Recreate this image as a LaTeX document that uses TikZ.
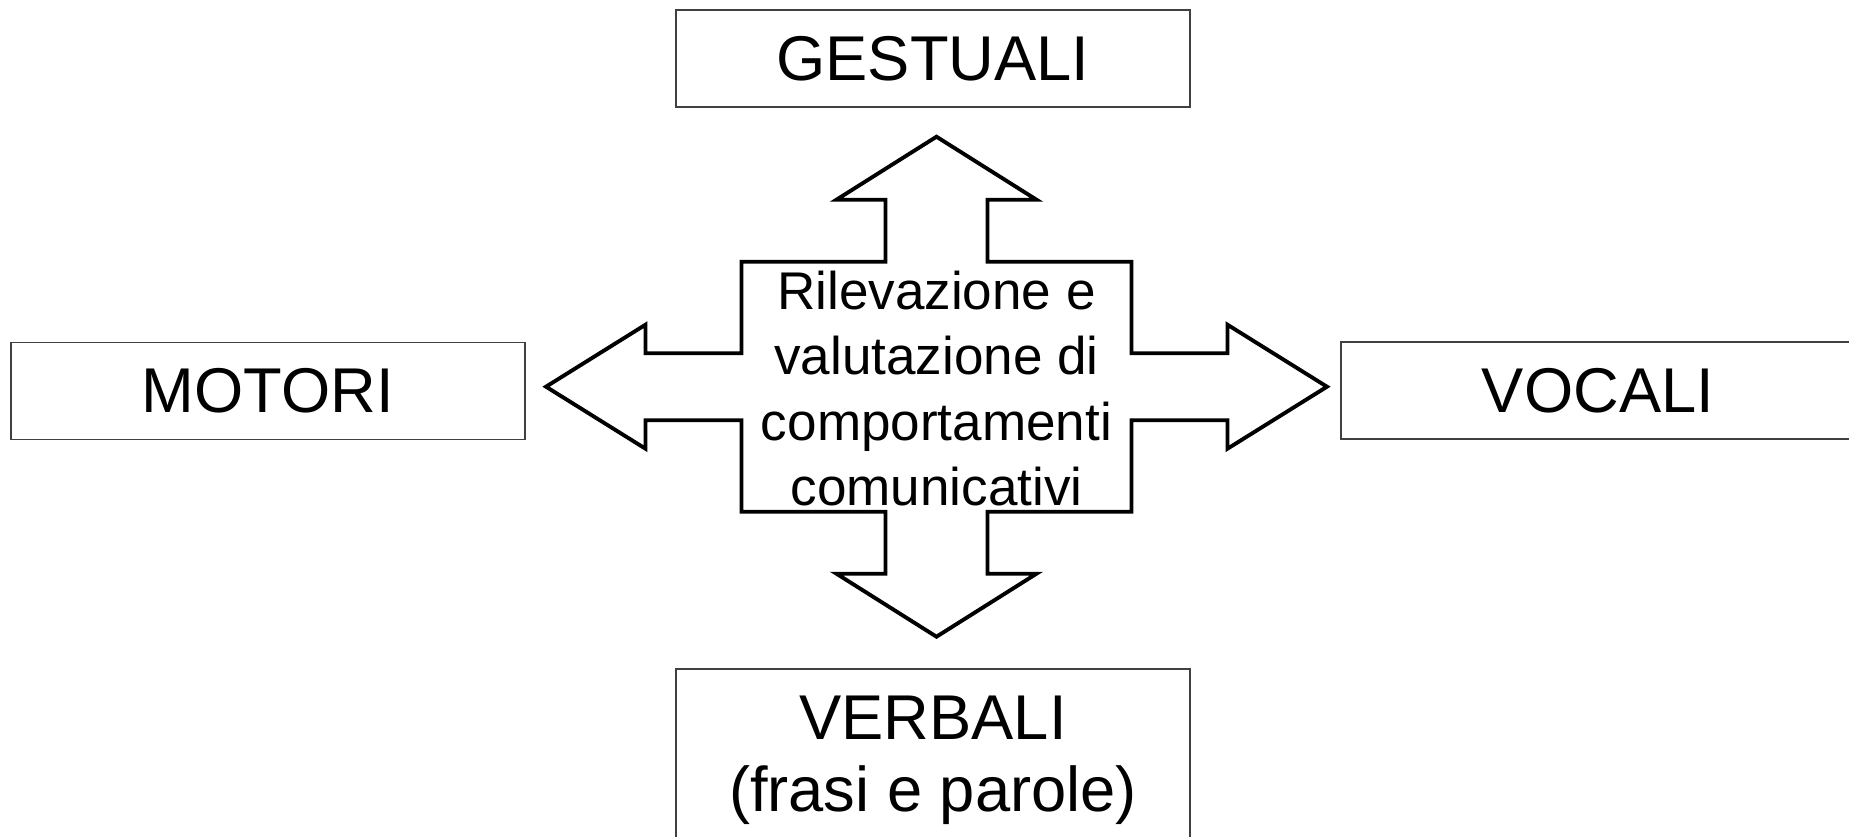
\documentclass[tikz,border=0pt]{standalone}
\usepackage{fontspec}
\setmainfont{Liberation Sans}
\usetikzlibrary{positioning}

\begin{document}
\begin{tikzpicture}

\tikzstyle{catbox} = [draw=black!75, line width=0.5pt, minimum width=5.14cm, minimum height=0.97cm, inner sep=0pt, align=center, font=\fontsize{18}{20.7}\selectfont]
\tikzstyle{crossline} = [draw=black, line width=1.1pt, fill=white]
\tikzstyle{centrebox} = [inner sep=0pt, align=center, font=\fontsize{15.1}{18.6}\selectfont]

\useasboundingbox (-9.365,-4.493) rectangle (9.125,3.867);
\clip (-9.365,-4.493) rectangle (9.125,3.867);

% four-way arrow round the centre
\draw[crossline] (0,2.50) -- (1.00,1.87) -- (0.51,1.87) -- (0.51,1.25) -- (1.95,1.25)
	-- (1.95,0.335) -- (2.91,0.335) -- (2.91,0.62) -- (3.905,0) -- (2.91,-0.62) -- (2.91,-0.335)
	-- (1.95,-0.335) -- (1.95,-1.25) -- (0.51,-1.25) -- (0.51,-1.87) -- (1.00,-1.87) -- (0,-2.50)
	-- (-1.00,-1.87) -- (-0.51,-1.87) -- (-0.51,-1.25) -- (-1.95,-1.25) -- (-1.95,-0.335)
	-- (-2.91,-0.335) -- (-2.91,-0.62) -- (-3.905,0) -- (-2.91,0.62) -- (-2.91,0.335)
	-- (-1.95,0.335) -- (-1.95,1.25) -- (-0.51,1.25) -- (-0.51,1.87) -- (-1.00,1.87) -- cycle;

\node[centrebox] (centre) at (0,-0.02) {Rilevazione e\\valutazione di\hspace*{0.4em}\\comportamenti\\comunicativi};

\node[catbox] (gestuali) at (-0.035,3.282) {GESTUALI};
\node[catbox] (motori) at (-6.688,-0.043) {MOTORI};
\node[catbox] (vocali) at (6.615,-0.04) {VOCALI};
\node[catbox, minimum height=1.83cm, anchor=north] (verbali) at (-0.035,-2.813) {VERBALI\\(frasi e parole)};

\end{tikzpicture}
\end{document}
